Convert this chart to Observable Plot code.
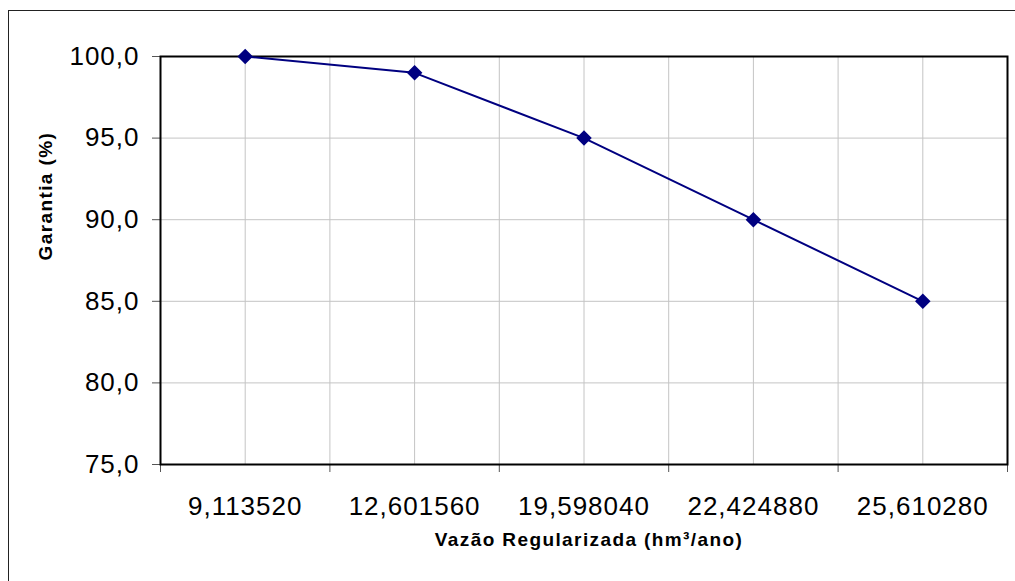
<!DOCTYPE html>
<html>
<head>
<meta charset="utf-8">
<script src="https://cdn.jsdelivr.net/npm/d3@7"></script>
<script src="https://cdn.jsdelivr.net/npm/@observablehq/plot@0.6"></script>
<style>
  html, body { margin: 0; padding: 0; background: white; overflow: hidden; }
  #wrap { position: relative; width: 1015px; height: 581px; }
  #border { position: absolute; left: 8px; top: 10px; width: 1100px; height: 700px;
            border-left: 1.5px solid #222; border-top: 1.5px solid #222; pointer-events: none; }
  svg g[aria-label$="tick label"] { font-size: 26px !important; letter-spacing: 1px; }
  svg text.axis-title { font-size: 19px !important; font-weight: bold; letter-spacing: 1.4px; }
</style>
</head>
<body>
<div id="wrap"><div id="border"></div></div>
<script>
const categories = ["9,113520", "12,601560", "19,598040", "22,424880", "25,610280"];
const garantia = [100.0, 99.0, 95.0, 90.0, 85.0];
const yTicks = [75, 80, 85, 90, 95, 100];
const xTitle = "Vazão Regularizada (hm³/ano)";
const yTitle = "Garantia (%)";

const n = categories.length;
const data = categories.map((c, i) => ({pos: i + 0.5, cat: c, value: garantia[i]}));
const boundaries = d3.range(0, n + 1);
const gridXs = d3.range(1, 2 * n).map(k => k / 2);

const chart = Plot.plot({
  width: 1015,
  height: 581,
  marginLeft: 160,
  marginRight: 8,
  marginTop: 56,
  marginBottom: 117,
  style: {fontFamily: "'Liberation Sans', Arial, sans-serif", background: "white", color: "black"},
  x: {type: "linear", domain: [0, n]},
  y: {domain: [75, 100]},
  marks: [
    Plot.gridX(gridXs, {stroke: "#c4c4c4", strokeOpacity: 1, strokeWidth: 1}),
    Plot.gridY(yTicks.slice(1, -1), {stroke: "#c4c4c4", strokeOpacity: 1, strokeWidth: 1}),
    Plot.axisY(yTicks, {tickSize: 8, tickPadding: 13, stroke: "#555", fill: "black",
      tickFormat: d => d.toFixed(1).replace(".", ","), fontSize: 26, label: null}),
    Plot.axisX(boundaries, {tickSize: 8, stroke: "#555", tickFormat: () => "", label: null}),
    Plot.axisX(data.map(d => d.pos), {tickSize: 0, tickPadding: 32, fill: "black",
      tickFormat: p => categories[Math.floor(p)], fontSize: 26, label: null}),
    Plot.frame({stroke: "black", strokeWidth: 2}),
    Plot.line(data, {x: "pos", y: "value", stroke: "#000080", strokeWidth: 2}),
    Plot.dot(data, {x: "pos", y: "value", symbol: "diamond2", r: 7, fill: "#000080", stroke: "none"}),
    Plot.text([xTitle], {text: d => d, frameAnchor: "bottom", dy: 81, dx: 5, fontWeight: "bold",
      fontSize: 19, fill: "black"}),
    Plot.text([yTitle], {text: d => d, frameAnchor: "left", dx: -115, rotate: -90, fontWeight: "bold",
      fontSize: 19, fill: "black"})
  ]
});
d3.select(chart).selectAll("text")
  .filter(function() { return this.textContent === xTitle || this.textContent === yTitle; })
  .classed("axis-title", true);
document.getElementById("wrap").prepend(chart);
</script>
</body>
</html>
